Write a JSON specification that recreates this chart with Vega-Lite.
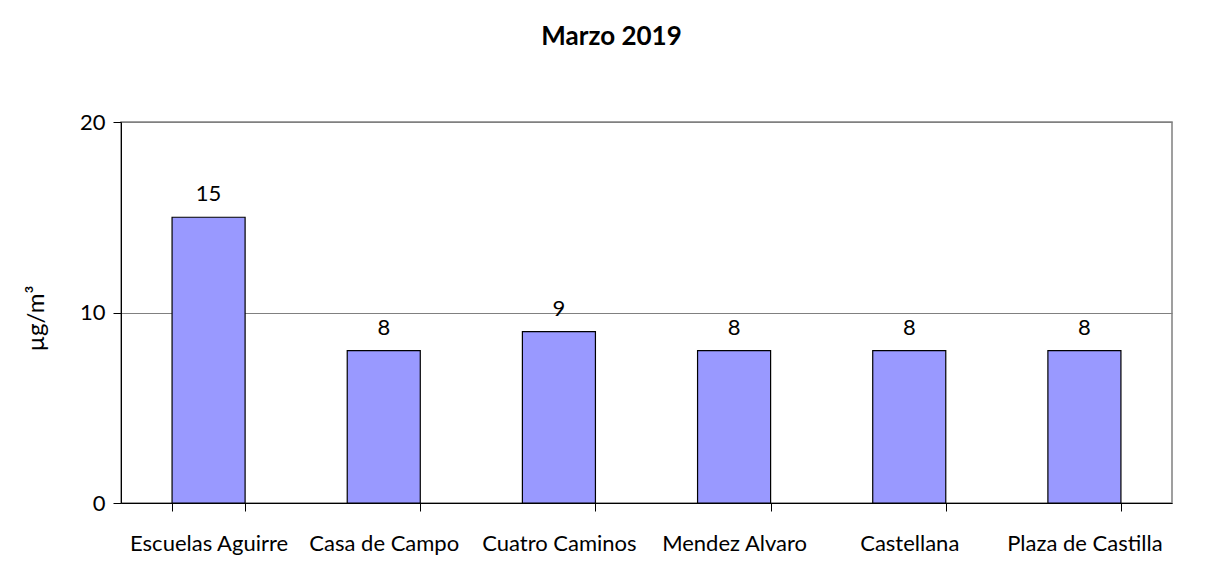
{
  "$schema": "https://vega.github.io/schema/vega-lite/v6.json",
  "width": 1051,
  "height": 381,
  "autosize": {"type": "none"},
  "padding": {"left": 121, "top": 122, "right": 39, "bottom": 68},
  "background": "white",
  "title": {
    "text": "Marzo 2019",
    "font": "Lato",
    "fontSize": 26,
    "fontWeight": "bold",
    "color": "#000000",
    "anchor": "middle",
    "dx": -35,
    "offset": 61
  },
  "data": {
    "values": [
      {"station": "Escuelas Aguirre", "value": 15},
      {"station": "Casa de Campo", "value": 8},
      {"station": "Cuatro Caminos", "value": 9},
      {"station": "Mendez Alvaro", "value": 8},
      {"station": "Castellana", "value": 8},
      {"station": "Plaza de Castilla", "value": 8}
    ]
  },
  "encoding": {
    "x": {
      "field": "station",
      "type": "nominal",
      "sort": null,
      "scale": {"paddingInner": 0.583, "paddingOuter": 0.2915},
      "axis": {
        "title": null,
        "labelAngle": 0,
        "labelFont": "Lato",
        "labelFontSize": 22,
        "labelColor": "#000000",
        "labelPadding": 22,
        "tickBand": "extent",
        "tickColor": "#000000",
        "tickSize": 8,
        "domainColor": "#000000",
        "grid": false
      }
    },
    "y": {
      "field": "value",
      "type": "quantitative",
      "scale": {"domain": [0, 20], "nice": false},
      "axis": {
        "title": "µg/m³",
        "titleFont": "Lato",
        "titleFontSize": 24,
        "titleFontWeight": "normal",
        "titleColor": "#000000",
        "titleX": -73,
        "titleY": 196,
        "values": [0, 10, 20],
        "labelFont": "Lato",
        "labelFontSize": 22,
        "labelColor": "#000000",
        "labelPadding": 8,
        "tickColor": "#000000",
        "tickSize": 8,
        "domainColor": "#000000",
        "grid": true,
        "gridColor": "#808080",
        "gridWidth": 1
      }
    }
  },
  "layer": [
    {
      "mark": {"type": "bar", "color": "#9999FF", "stroke": "#000000", "strokeWidth": 1.2}
    },
    {
      "mark": {"type": "text", "baseline": "alphabetic", "dy": -16, "font": "Lato", "fontSize": 22, "color": "#000000"},
      "encoding": {"text": {"field": "value", "type": "quantitative"}}
    }
  ],
  "config": {
    "view": {"stroke": "#808080", "strokeWidth": 1.5}
  }
}
